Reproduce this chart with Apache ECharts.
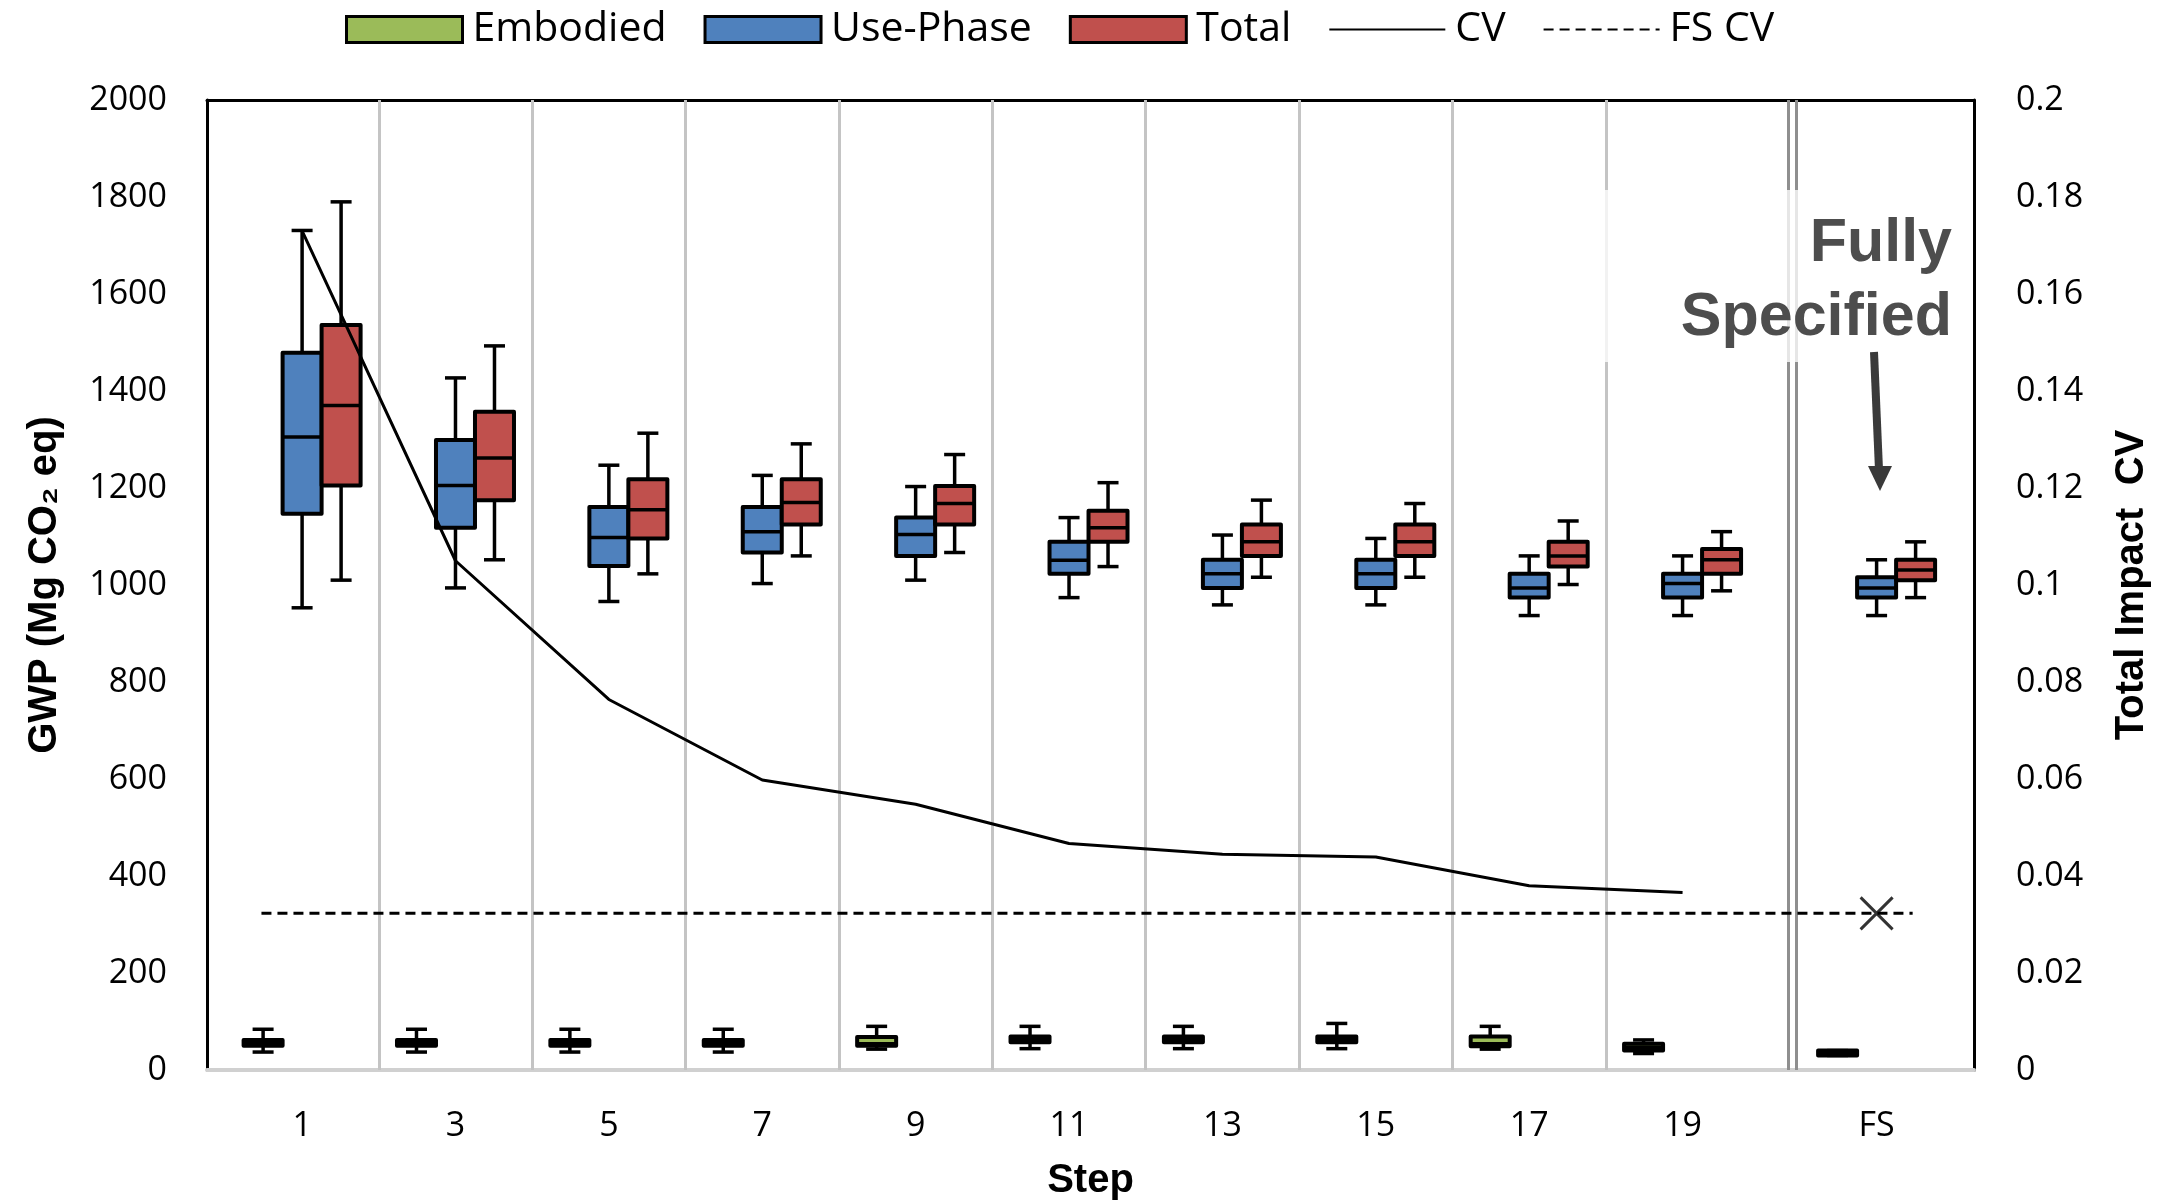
<!DOCTYPE html>
<html>
<head>
<meta charset="utf-8">
<title>GWP by step</title>
<script src="https://cdn.jsdelivr.net/npm/echarts@6/dist/echarts.min.js"></script>
<style>
  html, body { margin: 0; padding: 0; background: #fff; }
  #chart { width: 2162px; height: 1202px; }
</style>
</head>
<body>
<div id="chart"></div>
<script>
// x positions of each step (FS sits a bit further right, past the double divider)
const stepLabels = ['1', '3', '5', '7', '9', '11', '13', '15', '17', '19', 'FS']
const stepPos = [1, 3, 5, 7, 9, 11, 13, 15, 17, 19, 21.53]

// box values: [min, Q1, median, Q3, max]  (Mg CO2 eq)
const embodied = [
  [37, 50, 56, 62, 84], [37, 50, 56, 62, 84], [37, 50, 56, 62, 84], [37, 50, 56, 62, 84],
  [43, 50, 54, 68, 90], [44, 57, 63, 69, 90], [44, 57, 63, 69, 90], [44, 57, 63, 69, 96],
  [43, 49, 54, 69, 90], [34, 40, 47, 54, 62], [30, 30, 35, 40, 40]
]
const usePhase = [
  [953, 1147, 1305, 1479, 1731], [994, 1118, 1205, 1299, 1427], [966, 1039, 1098, 1161, 1247],
  [1003, 1067, 1110, 1161, 1226], [1010, 1060, 1104, 1139, 1203], [974, 1023, 1051, 1089, 1139],
  [959, 994, 1023, 1052, 1103], [959, 994, 1023, 1052, 1096], [937, 974, 994, 1023, 1060],
  [937, 974, 1003, 1023, 1060], [937, 974, 994, 1016, 1052]
]
const total = [
  [1010, 1205, 1370, 1536, 1790], [1052, 1175, 1262, 1357, 1493], [1023, 1096, 1155, 1218, 1313],
  [1060, 1125, 1170, 1218, 1291], [1067, 1125, 1168, 1204, 1269], [1038, 1089, 1118, 1153, 1211],
  [1016, 1060, 1089, 1125, 1175], [1016, 1060, 1089, 1125, 1168], [1001, 1038, 1060, 1089, 1132],
  [988, 1023, 1052, 1074, 1110], [974, 1010, 1031, 1052, 1089]
]

// total impact CV per step (steps 1..19), and the fully specified CV
const cv = [0.173, 0.105, 0.0764, 0.0598, 0.0548, 0.0467, 0.0445, 0.0439, 0.038, 0.0366]
const fsCv = 0.0323
const fsCvSpan = [0.47, 22.0]

// dividers between steps
const dividers = [2, 4, 6, 8, 10, 12, 14, 16, 18]
const fsDividers = [20.38, 20.48]

const colors = {
  embodied: '#9bbb59',
  usePhase: '#4f81bd',
  total: '#c0504d'
}

const BOX_W = 39
const CAP_W = 21
const tickFont = 'Open Sans'
const titleFont = 'Liberation Sans'

function boxRenderer(offset, color) {
  return function (params, api) {
    const x = api.value(0)
    const ys = [1, 2, 3, 4, 5].map(d => api.coord([x, api.value(d)]))
    const cx = ys[0][0] + offset
    const [lo, q1, med, q3, hi] = ys.map(p => p[1])
    const half = BOX_W / 2
    const cap = CAP_W / 2
    const line = { stroke: '#000', lineWidth: 3.5 }
    return {
      type: 'group',
      children: [
        { type: 'line', shape: { x1: cx, y1: hi, x2: cx, y2: q3 }, style: line },
        { type: 'line', shape: { x1: cx, y1: q1, x2: cx, y2: lo }, style: line },
        { type: 'line', shape: { x1: cx - cap, y1: hi, x2: cx + cap, y2: hi }, style: line },
        { type: 'line', shape: { x1: cx - cap, y1: lo, x2: cx + cap, y2: lo }, style: line },
        {
          type: 'rect',
          shape: { x: cx - half, y: q3, width: BOX_W, height: q1 - q3 },
          style: { fill: color, stroke: '#000', lineWidth: 4, lineJoin: 'round' }
        },
        { type: 'line', shape: { x1: cx - half, y1: med, x2: cx + half, y2: med }, style: line }
      ]
    }
  }
}

function boxSeries(name, values, color, offset) {
  return {
    name: name,
    type: 'custom',
    xAxisIndex: 0,
    yAxisIndex: 0,
    z: 3,
    itemStyle: { color: color },
    encode: { x: 0, y: [1, 2, 3, 4, 5] },
    data: stepPos.map((x, i) => [x].concat(values[i])),
    renderItem: boxRenderer(offset, color)
  }
}

const chart = echarts.init(document.getElementById('chart'))

const xRange = { min: -0.24, max: 22.8 }
const titleStyle = { fontFamily: titleFont, fontWeight: 'bold', fontSize: 40, color: '#000' }

const option = {
  animation: false,
  backgroundColor: '#fff',
  grid: { left: 207, right: 188, top: 100, bottom: 132, containLabel: false, outerBoundsMode: 'none' },
  legend: {
    left: 340,
    top: 4,
    itemWidth: 116,
    itemHeight: 26,
    itemGap: 37,
    textStyle: { fontFamily: tickFont, fontSize: 41, color: '#000', padding: [0, 0, 0, 5] },
    data: [
      { name: 'Embodied', icon: 'rect', itemStyle: { color: colors.embodied, borderColor: '#000', borderWidth: 3 } },
      { name: 'Use-Phase', icon: 'rect', itemStyle: { color: colors.usePhase, borderColor: '#000', borderWidth: 3 } },
      { name: 'Total', icon: 'rect', itemStyle: { color: colors.total, borderColor: '#000', borderWidth: 3 } },
      { name: 'CV', itemStyle: { opacity: 0 } },
      { name: 'FS CV', itemStyle: { opacity: 0 } }
    ]
  },
  xAxis: [
    {
      type: 'value',
      min: xRange.min,
      max: xRange.max,
      name: 'Step',
      nameLocation: 'middle',
      nameGap: 91,
      nameMoveOverlap: false,
      nameTextStyle: titleStyle,
      axisLine: { show: true, onZero: false, lineStyle: { color: '#d0d0d0', width: 4 } },
      axisTick: { show: false },
      splitLine: { show: false },
      axisLabel: {
        customValues: stepPos,
        margin: 39,
        fontFamily: tickFont,
        fontSize: 34,
        color: '#000',
        formatter: function (v) {
          const i = stepPos.findIndex(p => Math.abs(p - v) < 1e-6)
          return i >= 0 ? stepLabels[i] : ''
        }
      }
    },
    {
      type: 'value',
      position: 'top',
      min: xRange.min,
      max: xRange.max,
      axisLine: { show: true, onZero: false, lineStyle: { color: '#000', width: 3 } },
      axisTick: { show: false },
      axisLabel: { show: false },
      splitLine: { show: false }
    }
  ],
  yAxis: [
    {
      type: 'value',
      min: 0,
      max: 2000,
      interval: 200,
      name: 'GWP (Mg CO₂ eq)',
      nameLocation: 'middle',
      nameRotate: 90,
      nameGap: 142,
      nameMoveOverlap: false,
      nameTextStyle: titleStyle,
      axisLine: { show: true, onZero: false, lineStyle: { color: '#000', width: 3 } },
      axisTick: { show: false },
      splitLine: { show: false },
      axisLabel: { margin: 40, fontFamily: tickFont, fontSize: 34, color: '#000', formatter: v => String(v) }
    },
    {
      type: 'value',
      position: 'right',
      min: 0,
      max: 0.2,
      interval: 0.02,
      name: 'Total Impact  CV',
      nameLocation: 'middle',
      nameRotate: 90,
      nameGap: 138,
      nameMoveOverlap: false,
      nameTextStyle: titleStyle,
      axisLine: { show: true, onZero: false, lineStyle: { color: '#000', width: 3 } },
      axisTick: { show: false },
      splitLine: { show: false },
      axisLabel: {
        margin: 42,
        fontFamily: tickFont,
        fontSize: 34,
        color: '#000',
        formatter: v => String(+v.toFixed(2))
      }
    }
  ],
  series: [
    {
      name: 'dividers',
      type: 'line',
      data: [],
      z: 1,
      silent: true,
      markLine: {
        silent: true,
        symbol: ['none', 'none'],
        label: { show: false },
        animation: false,
        data: dividers.map(v => ({ xAxis: v, lineStyle: { color: '#c4c4c4', width: 3, type: 'solid' } }))
          .concat(fsDividers.map(v => ({ xAxis: v, lineStyle: { color: '#8f8f8f', width: 3, type: 'solid' } })))
      }
    },
    boxSeries('Embodied', embodied, colors.embodied, -39),
    boxSeries('Use-Phase', usePhase, colors.usePhase, 0),
    boxSeries('Total', total, colors.total, 39),
    {
      name: 'CV',
      type: 'line',
      yAxisIndex: 1,
      z: 5,
      symbol: 'none',
      lineStyle: { color: '#000', width: 3 },
      itemStyle: { color: '#000' },
      data: cv.map((v, i) => [stepPos[i], v])
    },
    {
      name: 'FS CV',
      type: 'line',
      yAxisIndex: 1,
      z: 5,
      symbol: 'none',
      lineStyle: { color: '#000', width: 3, type: [10, 6] },
      itemStyle: { color: '#000' },
      data: fsCvSpan.map(x => [x, fsCv])
    },
    {
      name: 'FS CV marker',
      type: 'scatter',
      yAxisIndex: 1,
      z: 6,
      symbol: 'path://M0,0L10,10M10,0L0,10',
      symbolSize: 32,
      itemStyle: { color: 'none', borderColor: '#000', borderWidth: 3 },
      data: [[stepPos[stepPos.length - 1], fsCv]]
    }
  ],
  graphic: [
    {
      type: 'rect',
      z: 10,
      shape: { x: 1605, y: 190, width: 350, height: 172 },
      style: { fill: 'rgba(255,255,255,0.78)' }
    },
    {
      type: 'text',
      z: 11,
      x: 1952,
      y: 244,
      style: {
        text: 'Fully',
        font: 'bold 61px "Liberation Sans"',
        fill: '#4d4d4d',
        align: 'right',
        verticalAlign: 'middle'
      }
    },
    {
      type: 'text',
      z: 11,
      x: 1952,
      y: 318,
      style: {
        text: 'Specified',
        font: 'bold 61px "Liberation Sans"',
        fill: '#4d4d4d',
        align: 'right',
        verticalAlign: 'middle'
      }
    },
    {
      type: 'line',
      z: 11,
      shape: { x1: 1874, y1: 352, x2: 1879, y2: 470 },
      style: { stroke: '#3a3a3a', lineWidth: 8 }
    },
    {
      type: 'polygon',
      z: 11,
      shape: { points: [[1868, 466], [1892, 466], [1880, 491]] },
      style: { fill: '#3a3a3a' }
    }
  ]
}

chart.setOption(option)
</script>
</body>
</html>
